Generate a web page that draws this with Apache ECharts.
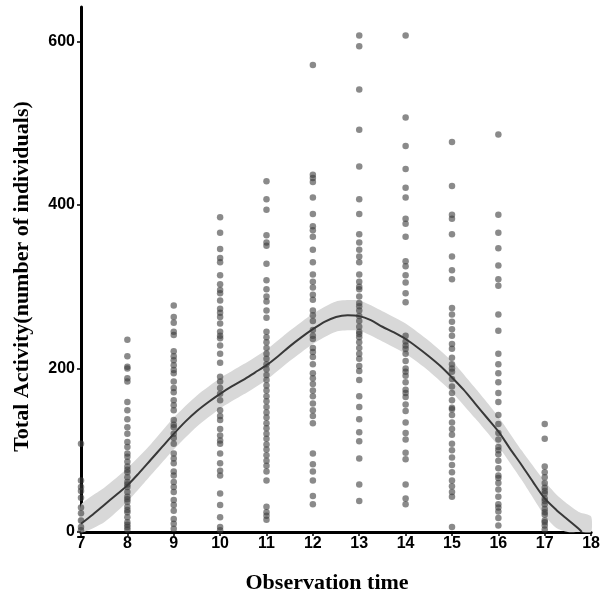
<!DOCTYPE html>
<html><head><meta charset="utf-8">
<script src="https://cdn.jsdelivr.net/npm/echarts@6/dist/echarts.min.js"></script>
<style>html,body{margin:0;padding:0;background:#fff}#c{width:603px;height:602px}</style>
</head><body><div id="c"></div>
<script>
const hours = [7,8,9,10,11,12,13,14,15,16,17];
const obs7  = [108,63,55,50,42,30,23,14,6,2];
const obs8  = [235,215,202,200,188,184,159,149,138,128,120,110,104,92,86,80,73,67,61,55,49,43,37,31,24,18,12,6,3,96,76,58,40,27,9];
const obs9  = [277,263,256,245,241,221,215,210,204,194,184,171,161,149,137,128,120,108,96,84,69,61,49,39,26,16,4,198,176,155,131,115,90,74,55,33,10];
const obs10 = [385,366,346,335,314,303,292,283,273,263,255,245,237,228,218,207,190,184,169,161,149,137,126,118,108,96,84,75,69,47,33,18,6,2,330,296,268,240,176,142,112];
const obs11 = [429,407,394,363,354,350,328,308,297,288,282,271,262,245,238,232,225,218,212,205,199,192,186,179,173,166,160,153,146,140,133,127,120,114,107,101,94,87,81,74,63,31,24,20,15];
const obs12 = [571,437,433,428,409,389,374,369,361,345,330,315,306,299,284,271,258,247,236,225,214,205,194,188,181,173,166,157,149,142,133,96,83,74,63,44,34,290,265,240,220];
const obs13 = [607,594,541,492,447,407,389,364,354,345,337,330,315,306,297,288,280,271,264,258,251,245,238,232,225,218,212,203,197,186,166,153,138,122,111,90,58,38,300,276,242];
const obs14 = [607,507,472,444,421,409,383,377,361,331,325,314,305,292,281,240,233,224,218,209,200,191,183,174,165,156,148,134,121,113,97,89,58,41,34,228,196,170];
const obs15 = [477,423,388,383,364,337,320,309,274,266,257,248,240,224,213,205,196,187,178,170,161,152,143,134,126,119,108,100,91,82,73,63,56,49,43,6,230,200,150];
const obs16 = [486,388,366,347,326,309,301,266,246,218,205,194,183,170,159,143,132,121,113,104,95,87,78,69,60,52,43,34,25,17,8,100,66,30];
const obs17 = [132,114,80,73,67,60,54,47,41,34,28,21,14,8,3,50,38,24,12];
const observations = [obs7,obs8,obs9,obs10,obs11,obs12,obs13,obs14,obs15,obs16,obs17];

// fitted smooth curve
const fitX = [7,7.25,7.5,7.75,8,8.25,8.5,8.75,9,9.25,9.5,9.75,10,10.25,10.5,10.75,11,11.25,11.5,11.75,12,12.25,12.5,12.75,13,13.25,13.5,13.75,14,14.25,14.5,14.75,15,15.25,15.5,15.75,16,16.25,16.5,16.75,17,17.25,17.5,17.75,17.8];
const fitY = [10,21,33,45,57,72,88,104,120,135,148,159,169,178,186,195,204,215,227,238,248,257,263,265,264,259,251,244,236,226,215,203,189,174,157,140,123,102,82,61,41,27,15,3,0];
// confidence band
const bandX     = [7,7.5,8,8.5,9,9.5,10,10.5,11,11.5,12,12.5,13,13.5,14,14.5,15,15.5,16,16.5,17,17.25,17.5,17.75,18];
const bandLower = [-14,12,37,69,101,129,151,168,186,209,230,245,246,233,218,197,171,139,105,64,20,5,-6,-14,-20];
const bandUpper = [33,54,78,107,140,167,188,205,223,246,267,282,283,270,255,234,209,176,141,100,62,46,34,24,19];

const yTicks = [0,200,400,600];

const pts = [];
observations.forEach((arr,i)=>arr.forEach(v=>pts.push([hours[i],v])));
const lineData = fitX.map((x,i)=>[x,fitY[i]]);

const chart = echarts.init(document.getElementById('c'));
const labelFont = {fontFamily:'Liberation Sans',fontWeight:'bold',fontSize:16,color:'#000'};
const nameFont = {fontFamily:'Liberation Serif',fontWeight:'bold',fontSize:22,color:'#000'};
chart.setOption({
  animation:false,
  grid:{left:81,right:10,top:7,bottom:70},
  xAxis:{type:'value',min:7,max:18,interval:1,
    name:'Observation time',nameLocation:'middle',nameGap:40,
    nameTextStyle:Object.assign({padding:[0,18,0,0]},nameFont),
    axisLine:{lineStyle:{color:'#000',width:3}},
    axisTick:{show:true,length:4,lineStyle:{color:'#000',width:1.5}},
    axisLabel:Object.assign({margin:4},labelFont),
    splitLine:{show:false}},
  yAxis:{type:'value',min:0,max:642,
    name:'Total Activity(number of individuals)',nameLocation:'middle',nameGap:48,
    nameTextStyle:Object.assign({padding:[0,14,0,0]},nameFont),
    axisLine:{show:true,lineStyle:{color:'#000',width:3}},
    axisTick:{show:true,length:4,customValues:yTicks,lineStyle:{color:'#000',width:1.5}},
    axisLabel:Object.assign({margin:6,customValues:yTicks},labelFont),
    splitLine:{show:false}},
  series:[
    {type:'custom',data:[0],silent:true,z:1,
     renderItem:function(params,api){
       const top = bandX.map((x,i)=>api.coord([x,bandUpper[i]]));
       const bot = bandX.map((x,i)=>api.coord([x,Math.max(0,bandLower[i])])).reverse();
       return {type:'polygon',shape:{points:top.concat(bot),smooth:0.2},style:{fill:'#d8d8d8'}};
     }},
    {type:'scatter',data:pts,symbolSize:6.5,itemStyle:{color:'rgba(60,60,60,0.75)'},z:2},
    {type:'line',data:lineData,smooth:0.3,symbol:'none',lineStyle:{color:'#383838',width:2},z:3}
  ]
});
</script></body></html>
